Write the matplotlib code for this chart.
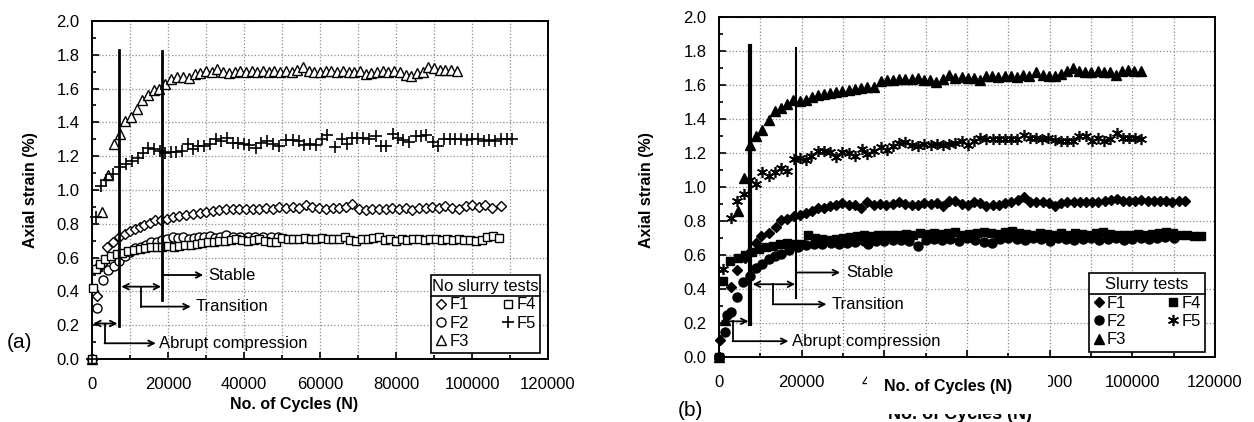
import matplotlib
matplotlib.use('Agg')
import matplotlib.pyplot as plt
from matplotlib.lines import Line2D
from matplotlib.patches import Rectangle
from matplotlib.ticker import MultipleLocator, FormatStrFormatter

plt.rcParams['font.family'] = ['Liberation Sans', 'DejaVu Sans']

# ---------------- panel (a): no slurry tests ----------------
a_f1_x = [0, 1200, 2500, 3900, 5500, 7100, 8600, 9900, 11200, 12500,
          13800, 15300, 16700, 18200, 19700, 21300, 23000, 24800, 26500, 28300,
          30000, 31800, 33500, 35300, 37000, 38800, 40500, 42300, 44000, 45800,
          47500, 49300, 51000, 52800, 54500, 56300, 58000, 59800, 61500, 63300,
          65000, 66800, 68500, 70300, 72000, 73800, 75500, 77300, 79000, 80800,
          82500, 84300, 86000, 87800, 89500, 91300, 93000, 94800, 96500, 98300,
          100000, 101800, 103500, 105300, 107500]
a_f1_y = [0.0, 0.37, 0.56, 0.66, 0.69, 0.72, 0.74, 0.76, 0.77, 0.78,
          0.79, 0.805, 0.82, 0.825, 0.83, 0.84, 0.845, 0.85, 0.86, 0.865,
          0.87, 0.875, 0.88, 0.885, 0.885, 0.89, 0.89, 0.885, 0.89, 0.895,
          0.89, 0.90, 0.895, 0.90, 0.895, 0.91, 0.90, 0.895, 0.89, 0.895,
          0.895, 0.90, 0.92, 0.89, 0.88, 0.885, 0.885, 0.89, 0.895, 0.89,
          0.895, 0.88, 0.895, 0.895, 0.90, 0.895, 0.905, 0.895, 0.89, 0.905,
          0.91, 0.90, 0.91, 0.895, 0.905]

a_f2_x = [0, 1300, 2900, 4200, 5700, 7200, 8600, 10000, 11400, 12800,
          14200, 15600, 17000, 18400, 19800, 21200, 22600, 24000, 25400, 26800,
          28200, 29600, 31000, 32400, 33800, 35200, 37000, 39000, 41000, 43000,
          45000, 47000, 49000]
a_f2_y = [0.0, 0.30, 0.465, 0.525, 0.55, 0.58, 0.61, 0.635, 0.655, 0.665,
          0.675, 0.69, 0.695, 0.705, 0.71, 0.72, 0.715, 0.72, 0.71, 0.715,
          0.72, 0.72, 0.725, 0.715, 0.72, 0.735, 0.72, 0.72, 0.72, 0.72,
          0.72, 0.72, 0.72]

a_f3_x = [0, 1400, 2700, 4300, 5700, 7300, 8800, 10300, 11800, 13100,
          14700, 16200, 17600, 19300, 20800, 22300, 23900, 25500, 27000, 28500,
          30100, 31600, 33000, 34500, 36000, 37500, 39000, 40500, 42000, 43500,
          45000, 46500, 48000, 49500, 51000, 52500, 54000, 55500, 57000, 58500,
          60000, 61500, 63000, 64500, 66000, 67500, 69000, 70500, 72000, 73500,
          75000, 76500, 78000, 79500, 81000, 82500, 84000, 85500, 87000, 88500,
          90000, 91500, 93000, 94500, 96000]
a_f3_y = [0.0, 0.55, 0.87, 1.09, 1.27, 1.33, 1.41, 1.43, 1.48, 1.53,
          1.56, 1.59, 1.60, 1.63, 1.655, 1.67, 1.67, 1.665, 1.685, 1.695,
          1.705, 1.70, 1.715, 1.70, 1.695, 1.70, 1.705, 1.70, 1.705, 1.70,
          1.705, 1.70, 1.705, 1.70, 1.705, 1.70, 1.71, 1.73, 1.705, 1.70,
          1.70, 1.705, 1.705, 1.70, 1.705, 1.70, 1.70, 1.705, 1.685, 1.69,
          1.70, 1.705, 1.70, 1.705, 1.70, 1.68, 1.675, 1.69, 1.70, 1.725,
          1.72, 1.71, 1.71, 1.71, 1.705]

a_f4_x = [0, 200, 1000, 2200, 3500, 5000, 6500, 8000, 9500, 11000,
          12500, 14000, 15500, 17000, 18500, 20000, 21500, 23000, 24500, 26000,
          27500, 29000, 30500, 32000, 33500, 35000, 36500, 38000, 39500, 41000,
          42500, 44000, 45500, 47000, 48500, 50000, 51500, 53000, 54500, 56000,
          57500, 59000, 60500, 62000, 63500, 65000, 66500, 68000, 69500, 71000,
          72500, 74000, 75500, 77000, 78500, 80000, 81500, 83000, 84500, 86000,
          87500, 89000, 90500, 92000, 93500, 95000, 96500, 98000, 99500, 101000,
          102500, 104000, 105500, 107000]
a_f4_y = [0.0, 0.42, 0.53, 0.56, 0.59, 0.61, 0.62, 0.63, 0.64, 0.645,
          0.65, 0.655, 0.66, 0.665, 0.665, 0.67, 0.665, 0.67, 0.675, 0.675,
          0.68, 0.685, 0.69, 0.695, 0.70, 0.70, 0.705, 0.71, 0.705, 0.70,
          0.705, 0.71, 0.70, 0.695, 0.69, 0.715, 0.71, 0.71, 0.71, 0.715,
          0.71, 0.71, 0.715, 0.71, 0.71, 0.71, 0.72, 0.705, 0.70, 0.71,
          0.71, 0.715, 0.72, 0.705, 0.71, 0.70, 0.71, 0.705, 0.71, 0.71,
          0.705, 0.71, 0.71, 0.705, 0.71, 0.705, 0.71, 0.705, 0.705, 0.70,
          0.705, 0.72, 0.725, 0.715]

a_f5_x = [0, 1150, 2470, 3800, 5500, 7450, 9000, 10500, 12100, 13400,
          14700, 16200, 17800, 19300, 20800, 22100, 23700, 25200, 26600, 28000,
          29500, 31000, 32500, 33900, 35400, 37000, 38500, 40000, 41400, 43200,
          44500, 46000, 47600, 49300, 51000, 52800, 54400, 55900, 57300, 58900,
          60500, 61900, 64000, 65700, 67200, 68500, 69800, 71400, 73000, 74800,
          76000, 77400, 79200, 80600, 81800, 83400, 85200, 86500, 87900, 89700,
          91100, 92600, 94100, 95600, 97100, 98600, 100100, 101600, 103100, 104600,
          106100, 107600, 109100, 110600]
a_f5_y = [0.0, 0.84, 1.025, 1.06, 1.095, 1.138, 1.154, 1.17, 1.19, 1.22,
          1.247, 1.245, 1.23, 1.22, 1.225, 1.225, 1.23, 1.27, 1.245, 1.26,
          1.263, 1.27, 1.30, 1.29, 1.31, 1.28, 1.28, 1.275, 1.265, 1.25,
          1.28, 1.29, 1.27, 1.26, 1.295, 1.295, 1.29, 1.265, 1.27, 1.265,
          1.30, 1.325, 1.255, 1.30, 1.275, 1.31, 1.31, 1.305, 1.30, 1.32,
          1.26, 1.26, 1.33, 1.306, 1.296, 1.286, 1.32, 1.32, 1.325, 1.286,
          1.26, 1.30, 1.30, 1.30, 1.30, 1.295, 1.30, 1.30, 1.29, 1.295,
          1.29, 1.30, 1.30, 1.30]

# ---------------- panel (b): slurry tests ----------------
b_f1_x = [0, 170, 3000, 4400, 6200, 7600, 9050, 10260, 12030, 13730,
          14940, 16500, 18090, 19540, 21000, 22520, 23970, 25400, 26950, 28400,
          29850, 31380, 32900, 34450, 35900, 37400, 39000, 40500, 42000, 43500,
          45000, 46600, 48200, 49700, 51200, 52700, 54100, 55700, 57200, 58700,
          60200, 61700, 63200, 64700, 66200, 67700, 69200, 70700, 72300, 73800,
          75300, 76800, 78300, 79800, 81300, 82800, 84300, 85800, 87300, 88800,
          90300, 91800, 93300, 94800, 96200, 97700, 99200, 100700, 102200, 103700,
          105200, 106700, 108200, 109700, 111200, 112700]
b_f1_y = [0.0, 0.10, 0.41, 0.51, 0.58, 0.62, 0.67, 0.71, 0.73, 0.765,
          0.808, 0.81, 0.83, 0.833, 0.847, 0.857, 0.876, 0.876, 0.886, 0.896,
          0.906, 0.896, 0.896, 0.876, 0.91, 0.896, 0.90, 0.896, 0.90, 0.91,
          0.90, 0.895, 0.895, 0.905, 0.90, 0.905, 0.886, 0.92, 0.915, 0.90,
          0.895, 0.91, 0.905, 0.89, 0.895, 0.895, 0.905, 0.91, 0.925, 0.94,
          0.912, 0.912, 0.91, 0.905, 0.89, 0.905, 0.91, 0.91, 0.91, 0.91,
          0.91, 0.91, 0.915, 0.925, 0.93, 0.915, 0.92, 0.92, 0.925, 0.92,
          0.915, 0.915, 0.915, 0.91, 0.915, 0.92]

b_f2_x = [0, 1380, 2000, 3000, 4450, 5800, 7600, 8890, 10500, 12030,
          13480, 15100, 17000, 19000, 21000, 23000, 25000, 27000, 29000, 31000,
          33000, 35000, 36100, 38000, 40000, 42000, 44000, 46000, 48200, 50000,
          52000, 54000, 56000, 58000, 60000, 62000, 64000, 66000, 68000, 70000,
          72000, 74000, 76000, 78000, 80000, 82000, 84000, 86000, 88000, 90000,
          92000, 94000, 96000, 98000, 100000, 102000, 104000, 106000, 108000, 110000]
b_f2_y = [0.0, 0.145, 0.245, 0.262, 0.353, 0.439, 0.478, 0.523, 0.55, 0.577,
          0.597, 0.607, 0.63, 0.645, 0.66, 0.665, 0.665, 0.67, 0.665, 0.67,
          0.675, 0.68, 0.665, 0.68, 0.685, 0.69, 0.69, 0.685, 0.655, 0.69,
          0.695, 0.69, 0.695, 0.68, 0.70, 0.69, 0.675, 0.67, 0.695, 0.70,
          0.695, 0.69, 0.70, 0.695, 0.685, 0.70, 0.695, 0.69, 0.695, 0.70,
          0.69, 0.695, 0.70, 0.69, 0.695, 0.70, 0.695, 0.70, 0.705, 0.70]

b_f3_x = [0, 1500, 4600, 6000, 7600, 9060, 10500, 12030, 13560, 15100,
          16560, 17920, 19540, 21000, 22520, 23970, 25340, 26950, 28400, 29850,
          31380, 32920, 34370, 35900, 37440, 39080, 40530, 41980, 43520, 45050,
          46590, 48100, 49600, 51100, 52600, 54100, 55700, 57200, 58700, 60200,
          61700, 63100, 64600, 66100, 67600, 69100, 70600, 72100, 73600, 75100,
          76800, 78300, 79800, 81300, 82800, 84200, 85600, 87100, 88600, 90100,
          91600, 93100, 94600, 96000, 97500, 99000, 100500, 102000]
b_f3_y = [0.0, 0.22, 0.857, 1.053, 1.249, 1.298, 1.337, 1.392, 1.45, 1.465,
          1.49, 1.513, 1.508, 1.513, 1.53, 1.54, 1.55, 1.554, 1.56, 1.566,
          1.57, 1.574, 1.58, 1.586, 1.59, 1.621, 1.627, 1.63, 1.634, 1.634,
          1.636, 1.64, 1.632, 1.628, 1.616, 1.635, 1.66, 1.64, 1.645, 1.64,
          1.64, 1.628, 1.655, 1.655, 1.65, 1.655, 1.655, 1.65, 1.66, 1.655,
          1.675, 1.66, 1.655, 1.655, 1.665, 1.68, 1.70, 1.68, 1.675, 1.675,
          1.68, 1.675, 1.675, 1.66, 1.685, 1.69, 1.685, 1.68]

b_f4_x = [0, 970, 2760, 4500, 6200, 7900, 9600, 11300, 13000, 14700,
          16400, 18100, 19800, 21500, 23200, 24900, 26600, 28300, 30000, 31700,
          33400, 35100, 36800, 38500, 40200, 41900, 43600, 45300, 47000, 48700,
          50400, 52100, 53800, 55500, 57200, 58900, 60600, 62300, 64000, 65700,
          67400, 69100, 70800, 72500, 74200, 75900, 77600, 79300, 81000, 82700,
          84400, 86100, 87800, 89500, 91200, 92900, 94600, 96300, 98000, 99700,
          101400, 103100, 104800, 106500, 108200, 109900, 111600, 113300, 115000, 116700]
b_f4_y = [0.0, 0.445, 0.562, 0.58, 0.60, 0.62, 0.635, 0.645, 0.655, 0.665,
          0.67, 0.665, 0.665, 0.715, 0.70, 0.695, 0.69, 0.695, 0.70, 0.705,
          0.71, 0.715, 0.71, 0.715, 0.72, 0.715, 0.72, 0.725, 0.72, 0.73,
          0.725, 0.73, 0.725, 0.73, 0.735, 0.72, 0.725, 0.73, 0.735, 0.73,
          0.725, 0.735, 0.74, 0.73, 0.725, 0.72, 0.73, 0.725, 0.72, 0.73,
          0.72, 0.73, 0.725, 0.72, 0.73, 0.735, 0.725, 0.72, 0.715, 0.72,
          0.725, 0.72, 0.725, 0.73, 0.735, 0.73, 0.72, 0.715, 0.71, 0.71]

b_f5_x = [0, 970, 3000, 4450, 6060, 7600, 9050, 10500, 12030, 13480,
          15100, 16560, 18090, 19540, 21000, 22370, 23970, 25340, 26950, 28400,
          29850, 31380, 32920, 34530, 35900, 37440, 39080, 40530, 41980, 43520,
          45050, 46590, 48200, 49700, 51200, 52700, 54200, 55700, 57200, 58700,
          60200, 61700, 63200, 64700, 66200, 67700, 69200, 70700, 72200, 73700,
          75200, 76700, 78200, 79700, 81200, 82700, 84200, 85700, 87200, 88700,
          90200, 91700, 93200, 94700, 96200, 97700, 99200, 100700, 102200]
b_f5_y = [0.0, 0.52, 0.818, 0.915, 0.96, 1.043, 1.02, 1.086, 1.066, 1.09,
          1.11, 1.096, 1.166, 1.17, 1.157, 1.18, 1.21, 1.21, 1.204, 1.176,
          1.206, 1.20, 1.18, 1.225, 1.196, 1.213, 1.235, 1.215, 1.243, 1.258,
          1.267, 1.25, 1.243, 1.255, 1.25, 1.252, 1.25, 1.255, 1.26, 1.27,
          1.25, 1.27, 1.29, 1.285, 1.28, 1.28, 1.285, 1.28, 1.285, 1.306,
          1.29, 1.29, 1.285, 1.29, 1.275, 1.27, 1.27, 1.27, 1.30, 1.30,
          1.27, 1.29, 1.27, 1.28, 1.318, 1.29, 1.29, 1.29, 1.28]

series_names = ['F1', 'F2', 'F3', 'F4', 'F5']

# Excel-like star marker: X with a vertical bar
star6 = (6, 2, 0)

W, H = 1254, 422
fig = plt.figure(figsize=(W / 100, H / 100), dpi=100)


def px_axes(x0, y0, x1, y1):
    # pixel box (left, top, right, bottom) -> figure fraction
    return fig.add_axes([x0 / W, 1 - y1 / H, (x1 - x0) / W, (y1 - y0) / H])


ax_a = px_axes(92, 21, 548, 359)
ax_b = px_axes(719, 17, 1215, 357)


def style_axes(ax):
    ax.set_xlim(0, 120000)
    ax.set_ylim(0, 2.0)
    ax.xaxis.set_major_locator(MultipleLocator(20000))
    ax.xaxis.set_minor_locator(MultipleLocator(10000))
    ax.yaxis.set_major_locator(MultipleLocator(0.2))
    ax.yaxis.set_minor_locator(MultipleLocator(0.1))
    ax.yaxis.set_major_formatter(FormatStrFormatter('%.1f'))
    ax.xaxis.set_major_formatter(FormatStrFormatter('%d'))
    ax.tick_params(which='both', direction='in', labelsize=12, width=1.2)
    ax.tick_params(which='major', length=5)
    ax.tick_params(which='minor', length=3)
    ax.tick_params(axis='x', pad=13)
    ax.tick_params(axis='y', pad=9)
    ax.grid(which='major', linestyle=':', color='#8c8c8c', linewidth=0.9)
    ax.grid(which='minor', axis='x', linestyle=':', color='#8c8c8c', linewidth=0.9)
    ax.set_axisbelow(True)
    for s in ax.spines.values():
        s.set_linewidth(1.4)
        s.set_color('black')


def add_regions(ax, v1, v2, thick1, thick2):
    k = dict(color='black', clip_on=False, zorder=6)
    ax.plot([v1, v1], [0.195, 1.83], lw=thick1, **k)
    ax.plot([v2, v2], [0.35, 1.82], lw=thick2, **k)
    arr = dict(arrowstyle='<->', lw=1.3, color='black', shrinkA=0, shrinkB=0,
               mutation_scale=10)
    one = dict(arrowstyle='->', lw=1.3, color='black', shrinkA=0, shrinkB=0,
               mutation_scale=10)
    # abrupt compression
    ax.annotate('', xy=(v1 - 300, 0.21), xytext=(300, 0.21), arrowprops=arr)
    ax.plot([3300, 3300], [0.21, 0.093], lw=1.3, **k)
    ax.annotate('', xy=(16800, 0.093), xytext=(3300, 0.093), arrowprops=one)
    ax.text(17600, 0.093, 'Abrupt compression', fontsize=12, va='center', ha='left')
    # transition
    ax.annotate('', xy=(v2 - 300, 0.428), xytext=(v1 + 700, 0.428), arrowprops=arr)
    ax.plot([13000, 13000], [0.428, 0.31], lw=1.3, **k)
    ax.annotate('', xy=(26000, 0.31), xytext=(13000, 0.31), arrowprops=one)
    ax.text(27300, 0.31, 'Transition', fontsize=12, va='center', ha='left')
    # stable
    ax.annotate('', xy=(29300, 0.497), xytext=(v2, 0.497), arrowprops=one)
    ax.text(30700, 0.497, 'Stable', fontsize=12, va='center', ha='left')


def add_legend(ax, handles, title, box):
    leg = ax.legend(handles, series_names, title=title, ncol=2, loc='lower left',
                    bbox_to_anchor=box, mode='expand', fontsize=12, title_fontsize=12,
                    frameon=True, fancybox=False, edgecolor='black', framealpha=1,
                    handlelength=0.7, handletextpad=0.15, columnspacing=1.1,
                    labelspacing=0.2, borderpad=0.25, numpoints=1,
                    borderaxespad=0)
    leg.get_frame().set_linewidth(1.2)
    leg.set_zorder(8)
    return leg


# ---------- panel (a) ----------
style_axes(ax_a)
ms_kw = dict(linestyle='none', color='black', mfc='white', mew=1.0, clip_on=False, zorder=3)
h1 = ax_a.plot(a_f1_x, a_f1_y, marker='D', ms=5.5, **ms_kw)[0]
h2 = ax_a.plot(a_f2_x, a_f2_y, marker='o', ms=6.5, **ms_kw)[0]
h3 = ax_a.plot(a_f3_x, a_f3_y, marker='^', ms=7, **ms_kw)[0]
h4 = ax_a.plot(a_f4_x, a_f4_y, marker='s', ms=6, **ms_kw)[0]
h5 = ax_a.plot(a_f5_x, a_f5_y, marker='+', ms=8, linestyle='none', color='black',
               mew=1.2, clip_on=False, zorder=3)[0]
add_regions(ax_a, 7000, 18500, 2.0, 2.0)
leg_a = add_legend(ax_a, [h1, h2, h3, h4, h5], 'No slurry tests', (0.743, 0.017, 0.24, 0))

fig.text(294 / W, 1 - 405 / H, 'No. of Cycles (N)', fontsize=11.5, fontweight='bold',
         ha='center', va='center')
fig.text(30 / W, 1 - 190 / H, 'Axial strain (%)', fontsize=11.5, fontweight='bold',
         ha='center', va='center', rotation=90)
fig.text(20 / W, 1 - 342 / H, '(a)', fontsize=15, ha='center', va='center')

# ---------- panel (b) ----------
style_axes(ax_b)
fk = dict(linestyle='none', color='black', clip_on=False, zorder=3)
g1 = ax_b.plot(b_f1_x, b_f1_y, marker='D', ms=5, **fk)[0]
g2 = ax_b.plot(b_f2_x, b_f2_y, marker='o', ms=6.5, **fk)[0]
g3 = ax_b.plot(b_f3_x, b_f3_y, marker='^', ms=7, **fk)[0]
g4 = ax_b.plot(b_f4_x, b_f4_y, marker='s', ms=6, **fk)[0]
g5 = ax_b.plot(b_f5_x, b_f5_y, marker=star6, ms=8, mew=1.2, **fk)[0]
add_regions(ax_b, 7430, 18740, 3.0, 1.5)
leg_b = add_legend(ax_b, [g1, g2, g3, g4, g5], 'Slurry tests', (0.745, 0.016, 0.235, 0))

fig.text(646 / W, 1 - 190 / H, 'Axial strain (%)', fontsize=11.5, fontweight='bold',
         ha='center', va='center', rotation=90)
fig.text(690 / W, 1 - 410 / H, '(b)', fontsize=15, ha='center', va='center')
# original axis title, mostly hidden under the pasted one
fig.text(960 / W, 1 - 419 / H, 'No. of Cycles (N)', fontsize=13, fontweight='bold',
         ha='center', va='baseline', zorder=1)
fig.add_artist(Rectangle((867 / W, 1 - 414 / H), 181 / W, 42 / H, transform=fig.transFigure,
                         facecolor='white', edgecolor='none', zorder=5))
fig.text(948 / W, 1 - 386 / H, 'No. of Cycles (N)', fontsize=11.5, fontweight='bold',
         ha='center', va='center', zorder=6)

# line under the legend titles
fig.canvas.draw()
inv = fig.transFigure.inverted()
for leg in (leg_a, leg_b):
    bb = leg.get_window_extent()
    tb = leg.get_title().get_window_extent()
    yl = tb.y0 - 2
    p0 = inv.transform((bb.x0, yl))
    p1 = inv.transform((bb.x1, yl))
    fig.add_artist(Line2D([p0[0], p1[0]], [p0[1], p1[1]], color='black', lw=1.2,
                          transform=fig.transFigure, zorder=10))

fig.savefig('out.png', dpi=100)
